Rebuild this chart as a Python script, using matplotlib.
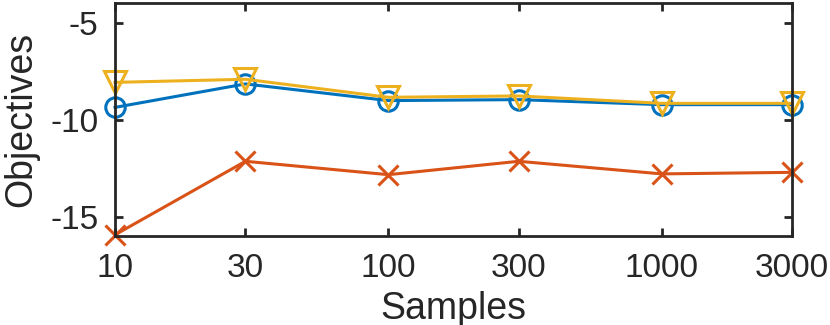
import matplotlib.pyplot as plt
from matplotlib.ticker import NullLocator, FixedLocator, FixedFormatter

plt.rcParams['font.family'] = ['Liberation Sans', 'DejaVu Sans']
plt.rcParams['axes.unicode_minus'] = False

samples = [10, 30, 100, 300, 1000, 3000]
tick_labels = ['10', '30', '100', '300', '1000', '3000']
blue_vals = [-9.37, -8.16, -9.02, -8.97, -9.23, -9.23]
red_vals = [-15.94, -12.15, -12.84, -12.15, -12.80, -12.72]
yellow_vals = [-8.08, -7.92, -8.85, -8.78, -9.16, -9.16]

fig = plt.figure(figsize=(8.3, 3.25), dpi=100)
ax = fig.add_axes([0.1386, 0.274, 0.8156, 0.716])

ax.plot(samples, blue_vals, color='#0072BD', lw=2.2, marker='o', ms=14,
        mfc='none', mew=2.2, clip_on=False)
ax.plot(samples, red_vals, color='#D95319', lw=2.2, marker='x', ms=15,
        mew=2.2, clip_on=False)
ax.plot(samples, yellow_vals, color='#EDB120', lw=2.2, marker='v', ms=16,
        mfc='none', mew=2.2, clip_on=False)

ax.set_xscale('log')
ax.set_xlim(10, 3000)
ax.set_ylim(-16, -4)
ax.xaxis.set_major_locator(FixedLocator(samples))
ax.xaxis.set_major_formatter(FixedFormatter(tick_labels))
ax.xaxis.set_minor_locator(NullLocator())
ax.set_yticks([-15, -10, -5])

dark = '#262626'
for s in ax.spines.values():
    s.set_linewidth(2.0)
    s.set_color(dark)
ax.tick_params(direction='in', length=6, width=2.0, colors=dark,
               labelsize=24, top=True, right=True)
ax.tick_params(axis='x', pad=12)
ax.tick_params(axis='y', pad=12)
ax.set_xlabel('Samples', fontsize=27, color=dark, labelpad=5)
ax.set_ylabel('Objectives', fontsize=27, color=dark, labelpad=8)

fig.savefig('out.png', dpi=100)
